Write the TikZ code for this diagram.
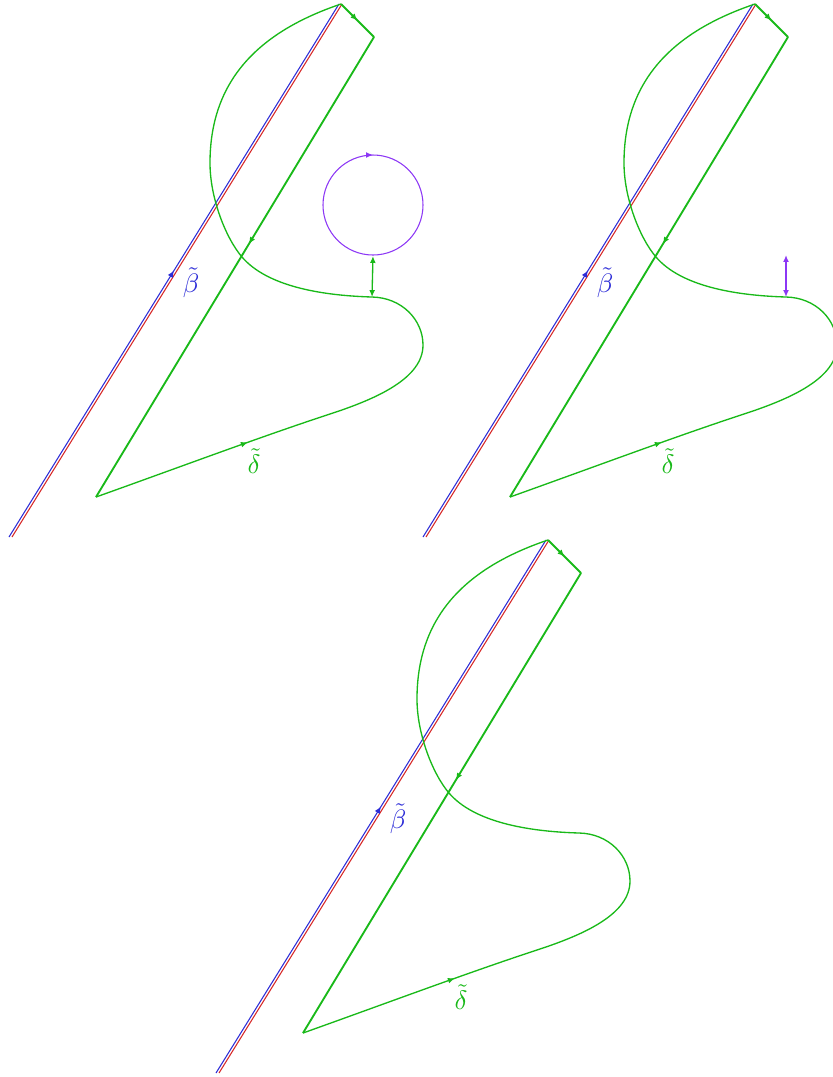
\documentclass[tikz,border=0pt]{standalone}
\usepackage{tikz}
\usetikzlibrary{arrows.meta,decorations.markings}
\definecolor{gline}{RGB}{25,185,25}
\definecolor{bline}{RGB}{45,45,215}
\definecolor{rline}{RGB}{215,40,40}
\definecolor{vline}{RGB}{140,55,245}

\begin{document}
\begin{tikzpicture}[
  x=0.375pt, y=-0.375pt, >={Latex[length=2.6pt,width=2.2pt]},
  markat/.style={postaction={decorate,decoration={markings,mark=at position #1 with {\arrow{>}}}}},
  lift/.style={line width=0.4pt},
  edge/.style={draw=gline, line width=0.7pt, line join=miter},
  loopcurve/.style={draw=gline, line width=0.5pt},
  ring/.style={draw=vline, line width=0.4pt},
  push/.style={<->, line width=0.5pt},
]
\useasboundingbox (0,0) rectangle (833,1077);

% Three copies of the same loop
\foreach \dx/\dy/\k in {0/0/1,414/0/2,207/536/3}{
  \begin{scope}[shift={(\dx,\dy)}]
    \coordinate (T\k) at (341,4);
    \coordinate (A\k) at (374,37);
    \coordinate (B\k) at (96,497);
    \coordinate (Q\k) at (330,414);
    \coordinate (R\k) at (423,345);
    \coordinate (S\k) at (372,297);
    \coordinate (V\k) at (242,257);
    \coordinate (W\k) at (210,163);
    \coordinate (bb\k) at (9,537);
    \coordinate (bt\k) at (339,4);
    \coordinate (rb\k) at (12,537);
    \coordinate (rt\k) at (342,4);

    % lifted line
    \draw[lift, draw=rline] (rb\k) -- (rt\k);
    \draw[lift, draw=bline, markat=0.5] (bb\k) -- (bt\k);
    \node[text=bline] (beta\k) at (191,283) {$\tilde\beta$};

    % lifted loop
    \draw[edge, markat=0.5] (T\k) -- (A\k);
    \draw[edge, markat=0.45] (A\k) -- (B\k);
    \draw[loopcurve, markat=0.65] (B\k) .. controls (180,467) and (260,437) .. (Q\k);
    \draw[loopcurve] (Q\k) .. controls (377.5,398.5) and (423,378) .. (R\k)
      .. controls (423,320) and (402,297.6) .. (S\k)
      .. controls (320,295.5) and (266.7,285.9) .. (V\k)
      .. controls (225.75,238) and (210,198) .. (W\k)
      .. controls (210,83) and (255.5,32.9) .. (T\k);
    \node[text=gline] (delta\k) at (254,461) {$\tilde\delta$};
  \end{scope}
}

% Small circle and its pull
\coordinate (hub) at (373,205);
\coordinate (hubfoot) at (373,256);
\draw[ring, markat=0.75] (hub) circle [radius=50];
\draw[push, draw=gline] (hubfoot) -- (S1);

% Pull without circle
\coordinate (tip2) at (786,255);
\draw[push, draw=vline, line width=0.8pt] (tip2) -- (S2);

\end{tikzpicture}
\end{document}
